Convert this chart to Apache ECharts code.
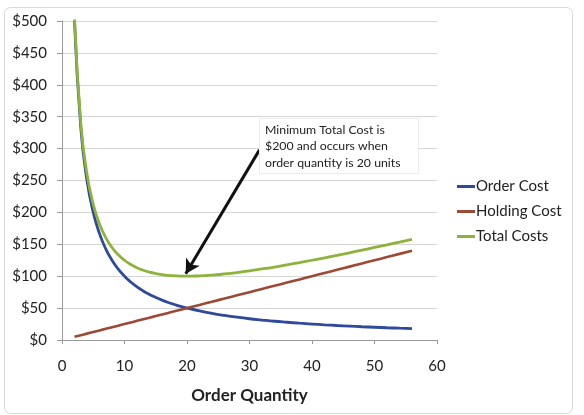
<!DOCTYPE html>
<html><head><meta charset="utf-8">
<script src="https://cdn.jsdelivr.net/npm/echarts@6/dist/echarts.min.js"></script>
<style>html,body{margin:0;padding:0;background:#fff}#c{width:584px;height:415px}</style>
</head><body><div id="c"></div>
<script>
var qty = [2,3,4,5,6,7,8,9,10,11,12,13,14,15,16,17,18,19,20,22,24,26,28,30,32,34,36,38,40,42,44,46,48,50,52,54,56];
var orderCost = [500,333.3,250,200,166.7,142.9,125,111.1,100,90.9,83.3,76.9,71.4,66.7,62.5,58.8,55.6,52.6,50,45.5,41.7,38.5,35.7,33.3,31.3,29.4,27.8,26.3,25,23.8,22.7,21.7,20.8,20,19.2,18.5,17.9];
var holdingCost = [5,7.5,10,12.5,15,17.5,20,22.5,25,27.5,30,32.5,35,37.5,40,42.5,45,47.5,50,55,60,65,70,75,80,85,90,95,100,105,110,115,120,125,130,135,140];
var totalCosts = [505,340.8,260,212.5,181.7,160.4,145,133.6,125,118.4,113.3,109.4,106.4,104.2,102.5,101.3,100.6,100.1,100,100.5,101.7,103.5,105.7,108.3,111.3,114.4,117.8,121.3,125,128.8,132.7,136.7,140.8,145,149.2,153.5,157.9];
var seriesNames = ['Order Cost','Holding Cost','Total Costs'];
var annotationLines = ['Minimum Total Cost is','$200 and occurs when','order quantity is 20 units'];
var arrowFrom = [31.6, 298];
var arrowTo = [19.8, 104];

function pairs(v){ return qty.map(function(q,i){ return [q, v[i]]; }); }
var font = 'Lato, "Open Sans", sans-serif';
var chart = echarts.init(document.getElementById('c'));
chart.setOption({
  animation:false,
  backgroundColor:'#fff',
  textStyle:{fontFamily:font},
  grid:{left:62,right:147,top:21,bottom:75},
  xAxis:{type:'value',min:0,max:60,interval:10,
    name:'Order Quantity',nameLocation:'middle',nameGap:47,
    nameTextStyle:{fontSize:17,fontWeight:'bold',color:'#222',fontFamily:font},
    axisLine:{lineStyle:{color:'#999'}},
    axisTick:{show:true,length:4,lineStyle:{color:'#999'}},
    axisLabel:{fontSize:15,color:'#222',margin:19},
    splitLine:{show:false}},
  yAxis:{type:'value',min:0,max:500,interval:50,
    axisLine:{show:true,lineStyle:{color:'#999'}},
    axisTick:{show:true,length:5,lineStyle:{color:'#999'}},
    axisLabel:{fontSize:15,color:'#222',margin:15,formatter:function(v){return '$'+v;}},
    splitLine:{lineStyle:{color:'#d6d6d6'}}},
  legend:{orient:'vertical',left:452,top:174,itemWidth:18,itemHeight:3,itemGap:10,icon:'rect',
    textStyle:{fontSize:15,color:'#222',padding:[0,0,0,-4]},
    data:seriesNames},
  series:[
    {name:seriesNames[0],type:'line',smooth:true,showSymbol:false,symbol:'none',data:pairs(orderCost),
      lineStyle:{width:2.8,color:'#2f4a9c'},itemStyle:{color:'#2f4a9c'},z:3},
    {name:seriesNames[1],type:'line',smooth:true,showSymbol:false,symbol:'none',data:pairs(holdingCost),
      lineStyle:{width:2.6,color:'#9b4a34'},itemStyle:{color:'#9b4a34'},z:3},
    {name:seriesNames[2],type:'line',smooth:true,showSymbol:false,symbol:'none',data:pairs(totalCosts),
      lineStyle:{width:2.8,color:'#8db33a'},itemStyle:{color:'#8db33a'},z:4,
      markLine:{silent:true,symbol:['none','arrow'],symbolSize:[12,14],
        lineStyle:{color:'#111',width:3,type:'solid'},label:{show:false},
        data:[[{coord:arrowFrom},{coord:arrowTo}]]}}
  ],
  graphic:[
    {type:'rect',left:2,top:5,shape:{width:568,height:406,r:6},style:{fill:'none',stroke:'#d9d9d9',lineWidth:1},silent:true,z:-1},
    {type:'rect',left:259,top:118,shape:{width:159,height:55},style:{fill:'#fff',stroke:'#ececec',lineWidth:1},z:10},
    {type:'text',left:265,top:122,style:{text:annotationLines.join('\n'),fill:'#222',font:'12.3px '+font,lineHeight:16.3},z:11}
  ]
});
</script></body></html>
